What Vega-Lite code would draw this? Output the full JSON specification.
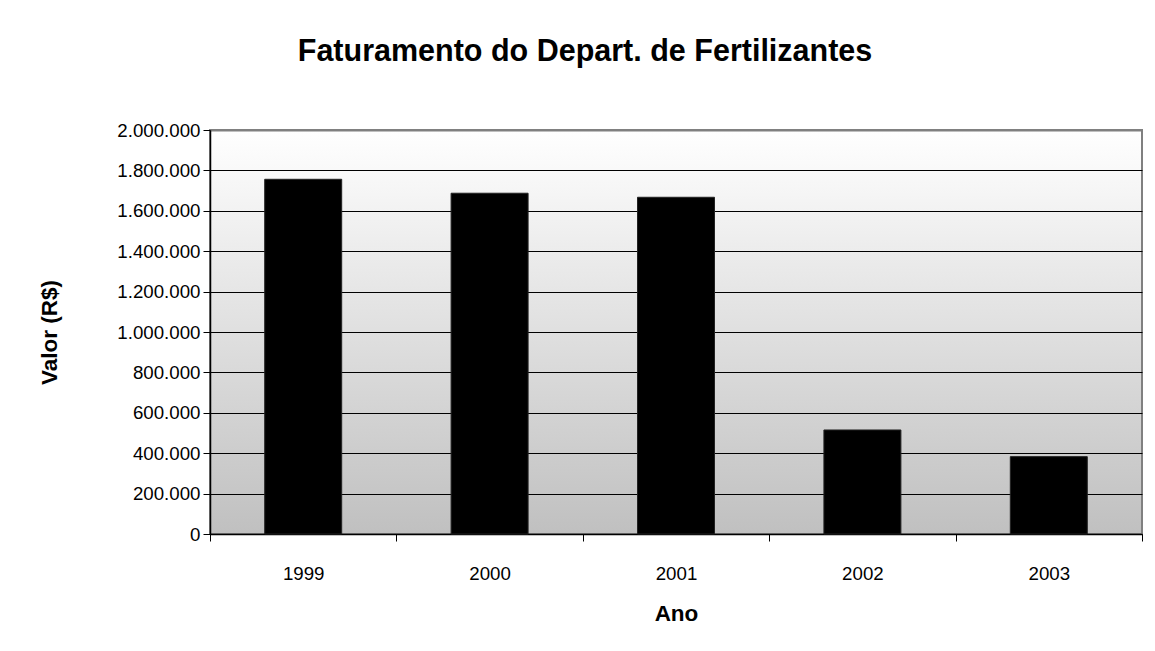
{
  "$schema": "https://vega.github.io/schema/vega-lite/v6.json",
  "width": 932,
  "height": 404,
  "autosize": {"type": "none"},
  "padding": {"left": 210, "top": 130, "right": 13, "bottom": 117},
  "background": "#ffffff",
  "title": {
    "text": "Faturamento do Depart. de Fertilizantes",
    "font": "Liberation Sans",
    "fontSize": 30.5,
    "fontWeight": "bold",
    "color": "#000000",
    "anchor": "middle",
    "frame": "group",
    "dx": -91,
    "baseline": "alphabetic",
    "offset": 30
  },
  "data": {
    "values": [
      {"Ano": "1999", "Valor": 1756000},
      {"Ano": "2000", "Valor": 1687000},
      {"Ano": "2001", "Valor": 1667000},
      {"Ano": "2002", "Valor": 515000},
      {"Ano": "2003", "Valor": 383000}
    ]
  },
  "mark": {"type": "bar", "color": "#000000", "stroke": "#222222", "strokeWidth": 1, "width": {"band": 0.413}},
  "encoding": {
    "x": {
      "field": "Ano",
      "type": "ordinal",
      "title": "Ano",
      "scale": {"paddingInner": 0, "paddingOuter": 0},
      "axis": {
        "labelAngle": 0,
        "tickBand": "extent",
        "tickSize": 7,
        "labelPadding": 23,
        "titlePadding": 20
      }
    },
    "y": {
      "field": "Valor",
      "type": "quantitative",
      "title": "Valor (R$)",
      "scale": {"domain": [0, 2000000], "nice": false},
      "axis": {
        "values": [0, 200000, 400000, 600000, 800000, 1000000, 1200000, 1400000, 1600000, 1800000, 2000000],
        "labelExpr": "replace(format(datum.value, ',d'), regexp(',', 'g'), '.')",
        "tickSize": 7,
        "labelPadding": 3,
        "titlePadding": 55,
        "grid": true,
        "gridColor": {"condition": {"test": "datum.value == 2000000", "value": "#808080"}, "value": "#000000"},
        "gridWidth": {"condition": {"test": "datum.value == 2000000", "value": 2}, "value": 1}
      }
    }
  },
  "config": {
    "view": {
      "stroke": "#808080",
      "strokeWidth": 2,
      "fill": {
        "gradient": "linear",
        "x1": 0, "y1": 0, "x2": 0, "y2": 1,
        "stops": [
          {"offset": 0, "color": "#ffffff"},
          {"offset": 1, "color": "#c0c0c0"}
        ]
      }
    },
    "axis": {
      "labelFont": "Liberation Sans",
      "labelFontSize": 18.7,
      "labelColor": "#000000",
      "titleFont": "Liberation Sans",
      "titleFontSize": 22.5,
      "titleFontWeight": "bold",
      "titleColor": "#000000",
      "domainColor": "#000000",
      "domainWidth": 1.5,
      "tickColor": "#000000",
      "tickWidth": 1,
      "gridOpacity": 1
    },
    "axisX": {"grid": false}
  }
}
